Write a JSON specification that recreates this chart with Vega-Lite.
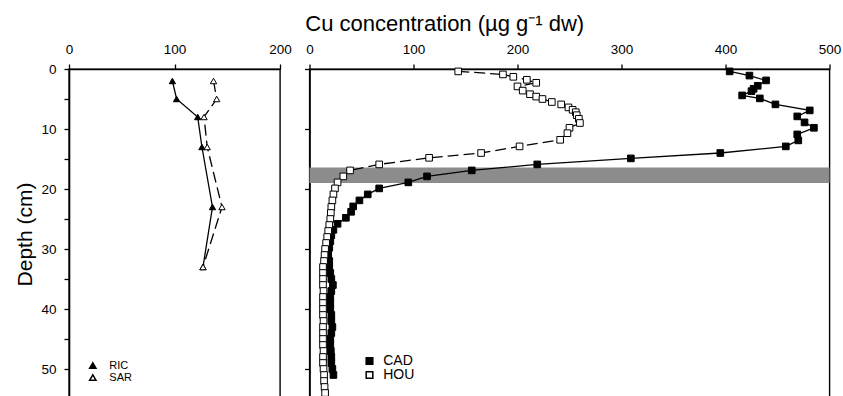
{
  "$schema": "https://vega.github.io/schema/vega-lite/v6.json",
  "padding": {"left": 14, "top": 12, "right": 5, "bottom": 0},
  "background": "white",
  "title": {"text": "Cu concentration (µg g⁻¹ dw)", "anchor": "start", "dx": 291, "fontSize": 22, "font": "Liberation Sans", "fontWeight": "normal", "color": "black", "offset": 6},
  "config": {
    "view": {"stroke": "black", "strokeWidth": 1.4},
    "font": "Liberation Sans",
    "axis": {"domainColor": "black", "domainWidth": 1.6, "tickColor": "black", "tickWidth": 1.3, "tickSize": 5, "labelColor": "black", "labelFont": "Liberation Sans", "labelFontSize": 13.5, "grid": false, "titleColor": "black", "titleFont": "Liberation Sans", "titleFontWeight": "normal"},
    "legend": {"padding": 0, "labelFont": "Liberation Sans", "labelColor": "black", "rowPadding": 0}
  },
  "datasets": {
    "left": [
      {"series": "RIC", "depth": 2, "conc": 98},
      {"series": "RIC", "depth": 5, "conc": 102},
      {"series": "RIC", "depth": 8, "conc": 122},
      {"series": "RIC", "depth": 13, "conc": 126},
      {"series": "RIC", "depth": 23, "conc": 136},
      {"series": "RIC", "depth": 33, "conc": 127},
      {"series": "SAR", "depth": 2, "conc": 137},
      {"series": "SAR", "depth": 5, "conc": 140},
      {"series": "SAR", "depth": 8, "conc": 128},
      {"series": "SAR", "depth": 13, "conc": 131},
      {"series": "SAR", "depth": 23, "conc": 145},
      {"series": "SAR", "depth": 33, "conc": 127}
    ],
    "right": [
      {"series": "CAD", "depth": 0.4, "conc": 404},
      {"series": "CAD", "depth": 1.1, "conc": 423},
      {"series": "CAD", "depth": 1.9, "conc": 439},
      {"series": "CAD", "depth": 2.8, "conc": 431},
      {"series": "CAD", "depth": 3.3, "conc": 427},
      {"series": "CAD", "depth": 3.7, "conc": 425},
      {"series": "CAD", "depth": 4.4, "conc": 416},
      {"series": "CAD", "depth": 4.9, "conc": 433},
      {"series": "CAD", "depth": 5.9, "conc": 448},
      {"series": "CAD", "depth": 6.9, "conc": 481},
      {"series": "CAD", "depth": 7.9, "conc": 469},
      {"series": "CAD", "depth": 8.9, "conc": 476},
      {"series": "CAD", "depth": 9.8, "conc": 485},
      {"series": "CAD", "depth": 10.9, "conc": 469},
      {"series": "CAD", "depth": 11.9, "conc": 470},
      {"series": "CAD", "depth": 12.9, "conc": 458},
      {"series": "CAD", "depth": 14.0, "conc": 395},
      {"series": "CAD", "depth": 14.9, "conc": 309},
      {"series": "CAD", "depth": 15.9, "conc": 219},
      {"series": "CAD", "depth": 16.9, "conc": 156},
      {"series": "CAD", "depth": 17.9, "conc": 113},
      {"series": "CAD", "depth": 18.9, "conc": 95},
      {"series": "CAD", "depth": 19.9, "conc": 67},
      {"series": "CAD", "depth": 20.9, "conc": 56},
      {"series": "CAD", "depth": 21.9, "conc": 48},
      {"series": "CAD", "depth": 22.9, "conc": 42},
      {"series": "CAD", "depth": 23.8, "conc": 40},
      {"series": "CAD", "depth": 24.8, "conc": 35},
      {"series": "CAD", "depth": 25.8, "conc": 27},
      {"series": "CAD", "depth": 26.8, "conc": 23},
      {"series": "CAD", "depth": 27.7, "conc": 21},
      {"series": "CAD", "depth": 28.7, "conc": 20},
      {"series": "CAD", "depth": 29.8, "conc": 19},
      {"series": "CAD", "depth": 30.9, "conc": 18},
      {"series": "CAD", "depth": 32, "conc": 19},
      {"series": "CAD", "depth": 33, "conc": 19},
      {"series": "CAD", "depth": 34, "conc": 20},
      {"series": "CAD", "depth": 35, "conc": 21},
      {"series": "CAD", "depth": 36, "conc": 22.5},
      {"series": "CAD", "depth": 37, "conc": 21},
      {"series": "CAD", "depth": 38, "conc": 20},
      {"series": "CAD", "depth": 39, "conc": 20},
      {"series": "CAD", "depth": 40, "conc": 20},
      {"series": "CAD", "depth": 41, "conc": 21},
      {"series": "CAD", "depth": 42, "conc": 21},
      {"series": "CAD", "depth": 43, "conc": 22},
      {"series": "CAD", "depth": 44, "conc": 21},
      {"series": "CAD", "depth": 45, "conc": 20},
      {"series": "CAD", "depth": 46, "conc": 20},
      {"series": "CAD", "depth": 47, "conc": 20.5},
      {"series": "CAD", "depth": 48, "conc": 21},
      {"series": "CAD", "depth": 49, "conc": 21},
      {"series": "CAD", "depth": 50, "conc": 22},
      {"series": "CAD", "depth": 51, "conc": 23},
      {"series": "HOU", "depth": 0.4, "conc": 143},
      {"series": "HOU", "depth": 0.9, "conc": 186},
      {"series": "HOU", "depth": 1.3, "conc": 196},
      {"series": "HOU", "depth": 1.8, "conc": 209},
      {"series": "HOU", "depth": 2.3, "conc": 218},
      {"series": "HOU", "depth": 2.9, "conc": 200},
      {"series": "HOU", "depth": 3.6, "conc": 205},
      {"series": "HOU", "depth": 4.2, "conc": 212},
      {"series": "HOU", "depth": 4.6, "conc": 218},
      {"series": "HOU", "depth": 5.0, "conc": 224},
      {"series": "HOU", "depth": 5.5, "conc": 233},
      {"series": "HOU", "depth": 5.9, "conc": 242},
      {"series": "HOU", "depth": 6.4, "conc": 249},
      {"series": "HOU", "depth": 6.8, "conc": 253},
      {"series": "HOU", "depth": 7.2, "conc": 256},
      {"series": "HOU", "depth": 7.7, "conc": 257},
      {"series": "HOU", "depth": 8.3, "conc": 259},
      {"series": "HOU", "depth": 9.0, "conc": 260},
      {"series": "HOU", "depth": 9.8, "conc": 250},
      {"series": "HOU", "depth": 10.7, "conc": 248},
      {"series": "HOU", "depth": 11.8, "conc": 241},
      {"series": "HOU", "depth": 12.9, "conc": 202},
      {"series": "HOU", "depth": 14.0, "conc": 165},
      {"series": "HOU", "depth": 14.8, "conc": 115},
      {"series": "HOU", "depth": 15.9, "conc": 67},
      {"series": "HOU", "depth": 16.9, "conc": 39},
      {"series": "HOU", "depth": 17.9, "conc": 32.5},
      {"series": "HOU", "depth": 18.9, "conc": 27},
      {"series": "HOU", "depth": 19.9, "conc": 24.5},
      {"series": "HOU", "depth": 20.9, "conc": 23},
      {"series": "HOU", "depth": 21.9, "conc": 22},
      {"series": "HOU", "depth": 23, "conc": 21},
      {"series": "HOU", "depth": 24, "conc": 20.5},
      {"series": "HOU", "depth": 25, "conc": 20},
      {"series": "HOU", "depth": 26, "conc": 19},
      {"series": "HOU", "depth": 27, "conc": 18},
      {"series": "HOU", "depth": 28, "conc": 17},
      {"series": "HOU", "depth": 29, "conc": 16},
      {"series": "HOU", "depth": 30, "conc": 15},
      {"series": "HOU", "depth": 31, "conc": 14.5},
      {"series": "HOU", "depth": 32, "conc": 14},
      {"series": "HOU", "depth": 33, "conc": 13},
      {"series": "HOU", "depth": 34, "conc": 13},
      {"series": "HOU", "depth": 35, "conc": 13},
      {"series": "HOU", "depth": 36, "conc": 13},
      {"series": "HOU", "depth": 37, "conc": 13.5},
      {"series": "HOU", "depth": 38, "conc": 13},
      {"series": "HOU", "depth": 39, "conc": 13},
      {"series": "HOU", "depth": 40, "conc": 13},
      {"series": "HOU", "depth": 41, "conc": 13},
      {"series": "HOU", "depth": 42, "conc": 13.5},
      {"series": "HOU", "depth": 43, "conc": 13},
      {"series": "HOU", "depth": 44, "conc": 13},
      {"series": "HOU", "depth": 45, "conc": 13},
      {"series": "HOU", "depth": 46, "conc": 13},
      {"series": "HOU", "depth": 47, "conc": 13.5},
      {"series": "HOU", "depth": 48, "conc": 13},
      {"series": "HOU", "depth": 49, "conc": 13},
      {"series": "HOU", "depth": 50, "conc": 13.5},
      {"series": "HOU", "depth": 51, "conc": 14},
      {"series": "HOU", "depth": 52, "conc": 14},
      {"series": "HOU", "depth": 53, "conc": 14.5},
      {"series": "HOU", "depth": 54, "conc": 15}
    ],
    "band": [{"top": 16.4, "bottom": 19.0}]
  },
  "spacing": 10.5,
  "resolve": {
    "scale": {"x": "independent", "shape": "independent", "fill": "independent"},
    "legend": {"shape": "independent", "fill": "independent"}
  },
  "hconcat": [
    {
      "width": 211,
      "height": 330,
      "data": {"name": "left"},
      "encoding": {
        "x": {"field": "conc", "type": "quantitative", "scale": {"domain": [0, 200], "nice": false, "zero": false},
              "axis": {"orient": "top", "values": [0, 100, 200], "title": null, "labelPadding": 7.5, "labelFlush": false}},
        "y": {"field": "depth", "type": "quantitative", "scale": {"domain": [0, 55], "reverse": true, "nice": false, "zero": false},
              "axis": {"values": [0, 5, 10, 15, 20, 25, 30, 35, 40, 45, 50, 55], "labelExpr": "datum.value % 10 === 0 ? datum.label : ''", "title": "Depth (cm)", "titleFontSize": 21, "titlePadding": 5, "labelPadding": 8}}
      },
      "layer": [
        {
          "transform": [{"filter": "datum.series === 'RIC'"}],
          "mark": {"type": "line", "stroke": "black", "strokeWidth": 1.3},
          "encoding": {"order": {"field": "depth", "type": "quantitative"}}
        },
        {
          "transform": [{"filter": "datum.series === 'SAR'"}],
          "mark": {"type": "line", "stroke": "black", "strokeWidth": 1.3, "strokeDash": [11, 5]},
          "encoding": {"order": {"field": "depth", "type": "quantitative"}}
        },
        {
          "mark": {"type": "point", "stroke": "black", "strokeWidth": 1, "size": 40, "opacity": 1},
          "encoding": {
            "shape": {"field": "series", "type": "nominal", "scale": {"domain": ["RIC", "SAR"], "range": ["triangle-up", "triangle-up"]},
              "legend": {"orient": "none", "legendX": 18.3, "legendY": 291, "title": null, "labelFontSize": 11, "symbolSize": 40, "rowPadding": -6, "labelOffset": 11}},
            "fill": {"field": "series", "type": "nominal", "scale": {"domain": ["RIC", "SAR"], "range": ["black", "white"]}}
          }
        }
      ]
    },
    {
      "width": 520,
      "height": 330,
      "layer": [
        {
          "data": {"name": "band"},
          "mark": {"type": "rect", "fill": "#8c8c8c"},
          "encoding": {
            "x": {"datum": 0, "type": "quantitative", "scale": {"domain": [0, 500], "nice": false, "zero": false},
                  "axis": {"orient": "top", "values": [0, 100, 200, 300, 400, 500], "title": null, "labelPadding": 7.5, "labelFlush": false}},
            "x2": {"datum": 500},
            "y": {"field": "top", "type": "quantitative", "scale": {"domain": [0, 55], "reverse": true, "nice": false, "zero": false},
                  "axis": {"values": [0, 5, 10, 15, 20, 25, 30, 35, 40, 45, 50, 55], "labels": false, "title": null}},
            "y2": {"field": "bottom"}
          }
        },
        {
          "data": {"name": "right"},
          "transform": [{"filter": "datum.series === 'CAD'"}],
          "mark": {"type": "line", "stroke": "black", "strokeWidth": 1.3},
          "encoding": {
            "x": {"field": "conc", "type": "quantitative"},
            "y": {"field": "depth", "type": "quantitative"},
            "order": {"field": "depth", "type": "quantitative"}
          }
        },
        {
          "data": {"name": "right"},
          "transform": [{"filter": "datum.series === 'HOU'"}],
          "mark": {"type": "line", "stroke": "black", "strokeWidth": 1.3, "strokeDash": [11, 5]},
          "encoding": {
            "x": {"field": "conc", "type": "quantitative"},
            "y": {"field": "depth", "type": "quantitative"},
            "order": {"field": "depth", "type": "quantitative"}
          }
        },
        {
          "data": {"name": "right"},
          "mark": {"type": "point", "stroke": "black", "strokeWidth": 1, "size": 44, "opacity": 1},
          "encoding": {
            "x": {"field": "conc", "type": "quantitative"},
            "y": {"field": "depth", "type": "quantitative"},
            "shape": {"field": "series", "type": "nominal", "scale": {"domain": ["CAD", "HOU"], "range": ["square", "square"]},
              "legend": {"orient": "none", "legendX": 53, "legendY": 285, "title": null, "labelFontSize": 14, "symbolSize": 44, "labelOffset": 6.7, "rowPadding": 0}},
            "fill": {"field": "series", "type": "nominal", "scale": {"domain": ["CAD", "HOU"], "range": ["black", "white"]}}
          }
        }
      ]
    }
  ]
}
